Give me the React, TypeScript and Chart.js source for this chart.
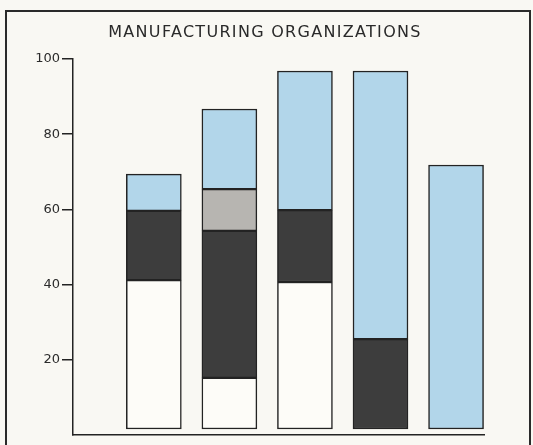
import React, { useEffect, useRef } from "react";
import { Chart, registerables } from "chart.js";

Chart.register(...registerables);

// Bar positions along the x axis (one per bar)
const barPositions = [1, 2, 3, 4, 5];
// Bottom of every bar (bars sit just above the baseline)
const barBase = [1.6, 1.6, 1.6, 1.6, 1.6];
// Upper boundary of each layer in every bar (null = layer absent)
const whiteTop = [41.2, 15.2, 40.7, null, null];
const darkTop = [59.6, 54.3, 59.8, 25.5, null];
const grayTop = [null, 65.4, null, null, null];
const blueTop = [69.4, 86.7, 96.8, 96.8, 71.8];
const yTicks = [20, 40, 60, 80, 100];
const titleText = "MANUFACTURING ORGANIZATIONS";

const layers = [
  { name: "white", tops: whiteTop, color: "#fdfcf8" },
  { name: "dark", tops: darkTop, color: "#3d3d3d" },
  { name: "gray", tops: grayTop, color: "#b7b5b1" },
  { name: "blue", tops: blueTop, color: "#b2d6ea" },
];

function buildDatasets() {
  const starts = barBase.slice();
  return layers.map((layer) => {
    const data = barPositions.map((x, i) => {
      const top = layer.tops[i];
      if (top === null || top === undefined) return { x, y: null };
      const seg = [starts[i], top];
      starts[i] = top;
      return { x, y: seg };
    });
    return {
      label: layer.name,
      data,
      backgroundColor: layer.color,
      borderColor: "#232323",
      borderWidth: 1.5,
      borderSkipped: false,
      barThickness: 55,
      grouped: false,
    };
  });
}

const titlePlugin = {
  id: "customTitle",
  afterDraw(chart: any) {
    const ctx = chart.ctx;
    ctx.save();
    ctx.font = '16px "DejaVu Sans"';
    (ctx as any).letterSpacing = "1.3px";
    ctx.fillStyle = "#2a2a2a";
    ctx.textAlign = "center";
    ctx.textBaseline = "middle";
    ctx.fillText(titleText, 265, 33);
    ctx.restore();
  },
};

export default function App() {
  const canvasRef = useRef<HTMLCanvasElement | null>(null);

  useEffect(() => {
    if (!canvasRef.current) return;
    const chart = new Chart(canvasRef.current, {
      type: "bar",
      data: { datasets: buildDatasets() as any },
      plugins: [titlePlugin],
      options: {
        animation: false,
        responsive: false,
        layout: { padding: { left: 0, right: 49, top: 59, bottom: 10 } },
        plugins: {
          legend: { display: false },
          tooltip: { enabled: false },
          title: { display: false },
        },
        scales: {
          x: {
            type: "linear",
            offset: false,
            min: -0.07,
            max: 5.37,
            ticks: { display: false },
            grid: { display: false },
            border: { display: true, color: "#232323", width: 1.5 },
            afterFit: (scale: any) => {
              scale.height = 0;
            },
          },
          y: {
            min: 0,
            max: 100,
            afterBuildTicks: (scale: any) => {
              scale.ticks = yTicks.map((v) => ({ value: v }));
            },
            ticks: {
              color: "#2b2b2b",
              font: { family: "DejaVu Sans", size: 13 },
              padding: 2,
            },
            grid: {
              drawOnChartArea: false,
              drawTicks: true,
              tickLength: 11,
              color: "#232323",
              lineWidth: 1.5,
            },
            border: { display: true, color: "#232323", width: 1.5 },
            afterFit: (scale: any) => {
              scale.width = 73;
            },
          },
        },
      },
    });
    return () => chart.destroy();
  }, []);

  return (
    <div
      style={{
        position: "fixed",
        left: 0,
        top: 0,
        width: 533,
        height: 445,
        background: "#f9f8f3",
        overflow: "hidden",
      }}
    >
      <div
        style={{
          position: "absolute",
          left: 5,
          top: 10,
          width: 526,
          height: 500,
          border: "2px solid #2a2a2a",
          boxSizing: "border-box",
        }}
      />
      <canvas
        ref={canvasRef}
        width={533}
        height={445}
        style={{ position: "absolute", left: 0, top: 0 }}
      />
    </div>
  );
}
